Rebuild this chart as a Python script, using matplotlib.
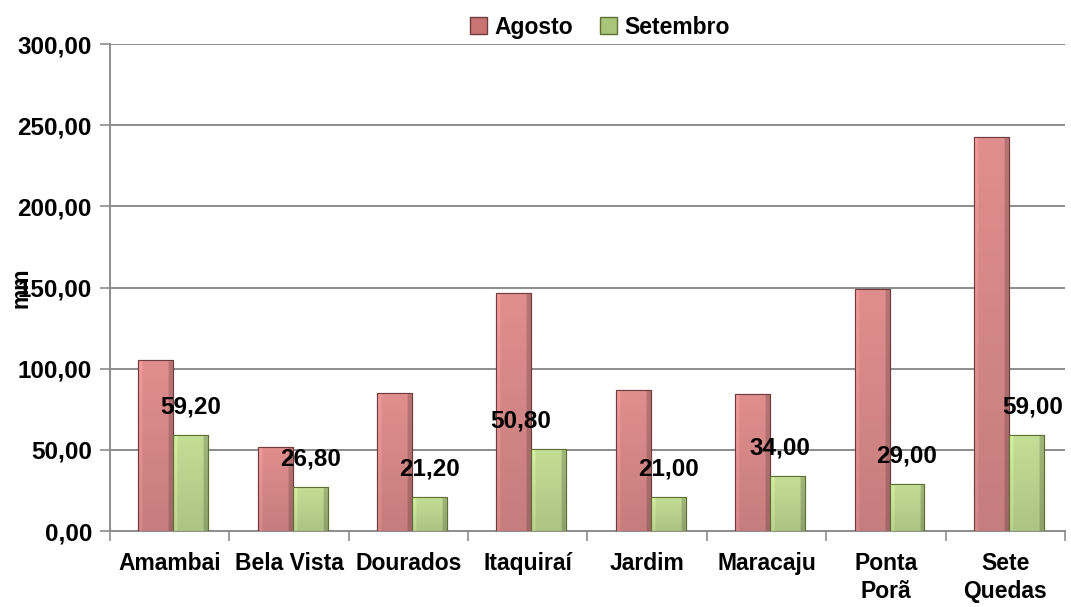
import numpy as np
import matplotlib.pyplot as plt
from matplotlib.colors import to_rgb
from matplotlib.patches import Patch

plt.rcParams['font.family'] = ['Liberation Sans', 'DejaVu Sans']
plt.rcParams['font.weight'] = 'bold'

cidades = ['Amambai', 'Bela Vista', 'Dourados', 'Itaquiraí', 'Jardim',
           'Maracaju', 'Ponta\nPorã', 'Sete\nQuedas']
agosto = [105.2, 52.0, 85.0, 146.8, 86.8, 84.2, 149.2, 242.8]
setembro = [59.20, 26.80, 21.20, 50.80, 21.00, 34.00, 29.00, 59.00]

cor_ago = '#dc8b8b'
cor_set = '#c0da92'


def textura(cor):
    # leve bisel: borda esquerda clara, direita escura, base um pouco mais escura
    base = np.array(to_rgb(cor))
    t = np.linspace(0, 1, 40)
    h = np.ones_like(t)
    h[t < 0.12] = 1.08
    h[t > 0.88] = 0.82
    v = np.linspace(1.02, 0.9, 60)[:, None]
    img = base[None, None, :] * (v * h[None, :])[:, :, None]
    return np.clip(img, 0, 1)


fig = plt.figure(figsize=(10.71, 6.07), dpi=100)
ax = fig.add_axes([0.1027, 0.1252, 0.8917, 0.8023])

x = np.arange(len(cidades))
w = 0.293
b1 = ax.bar(x - w / 2 + 0.03, agosto, w, color=cor_ago, edgecolor='#6e3c3c', linewidth=0.8, zorder=3)
b2 = ax.bar(x + w / 2 + 0.03, setembro, w, color=cor_set, edgecolor='#5e7034', linewidth=0.8, zorder=3)

for bars, cor in ((b1, cor_ago), (b2, cor_set)):
    img = textura(cor)
    for r in bars:
        x0, y0 = r.get_x(), r.get_y()
        im = ax.imshow(img, aspect='auto', zorder=3.5, interpolation='bilinear',
                       extent=(x0, x0 + r.get_width(), y0, y0 + r.get_height()))
        im.set_clip_path(r)
    for r in bars:
        ax.bar(r.get_x(), r.get_height(), r.get_width(), align='edge', fill=False,
               edgecolor=r.get_edgecolor(), linewidth=0.8, zorder=3.6)

# rótulos só na série de setembro
dx = [0, 0, 0, -28, 0, -8, 0, 6]
for r, v, d in zip(b2, setembro, dx):
    ax.annotate(('%.2f' % v).replace('.', ','),
                (r.get_x() + r.get_width() / 2, v), xytext=(d, 28),
                textcoords='offset pixels', ha='center', va='center',
                fontsize=17.5, fontweight='bold', zorder=5)

ax.set_xlim(-0.5, len(cidades) - 0.5)
ax.set_ylim(0, 300)
ax.set_yticks(np.arange(0, 301, 50))
ax.set_yticklabels([('%.2f' % t).replace('.', ',') for t in np.arange(0, 301, 50)])
ax.set_xticks(x)
ax.set_xticklabels(cidades, linespacing=1.3)
ax.set_xticks(np.arange(-0.5, len(cidades)), minor=True)
ax.tick_params(axis='x', which='major', length=0, pad=15, labelsize=16.5)
ax.tick_params(axis='x', which='minor', length=7, color='#8c8c8c', width=1.2)
ax.tick_params(axis='y', length=7, color='#8c8c8c', width=1.2, labelsize=17.5, pad=6)
for t in ax.get_xticklabels() + ax.get_yticklabels():
    t.set_fontweight('bold')

ax.grid(axis='y', color='#8c8c8c', linewidth=1.4, zorder=0)
ax.set_axisbelow(True)
for s in ['top', 'right']:
    ax.spines[s].set_visible(False)
for s in ['left', 'bottom']:
    ax.spines[s].set_color('#8c8c8c')
    ax.spines[s].set_linewidth(1.4)

ax.set_ylabel('mm', fontsize=16.5, fontweight='bold')
ax.yaxis.set_label_coords(-0.081, 0.5)

handles = [Patch(facecolor='#c97373', edgecolor='#6e3c3c'),
           Patch(facecolor='#a9c57a', edgecolor='#5e7034')]
fig.legend(handles, ['Agosto', 'Setembro'], loc='center', bbox_to_anchor=(0.56, 0.955),
           ncol=2, frameon=False, prop={'size': 16.5, 'weight': 'bold'},
           handlelength=0.75, handleheight=0.75, handletextpad=0.3, columnspacing=1.2)

fig.savefig('out.png', dpi=100)
